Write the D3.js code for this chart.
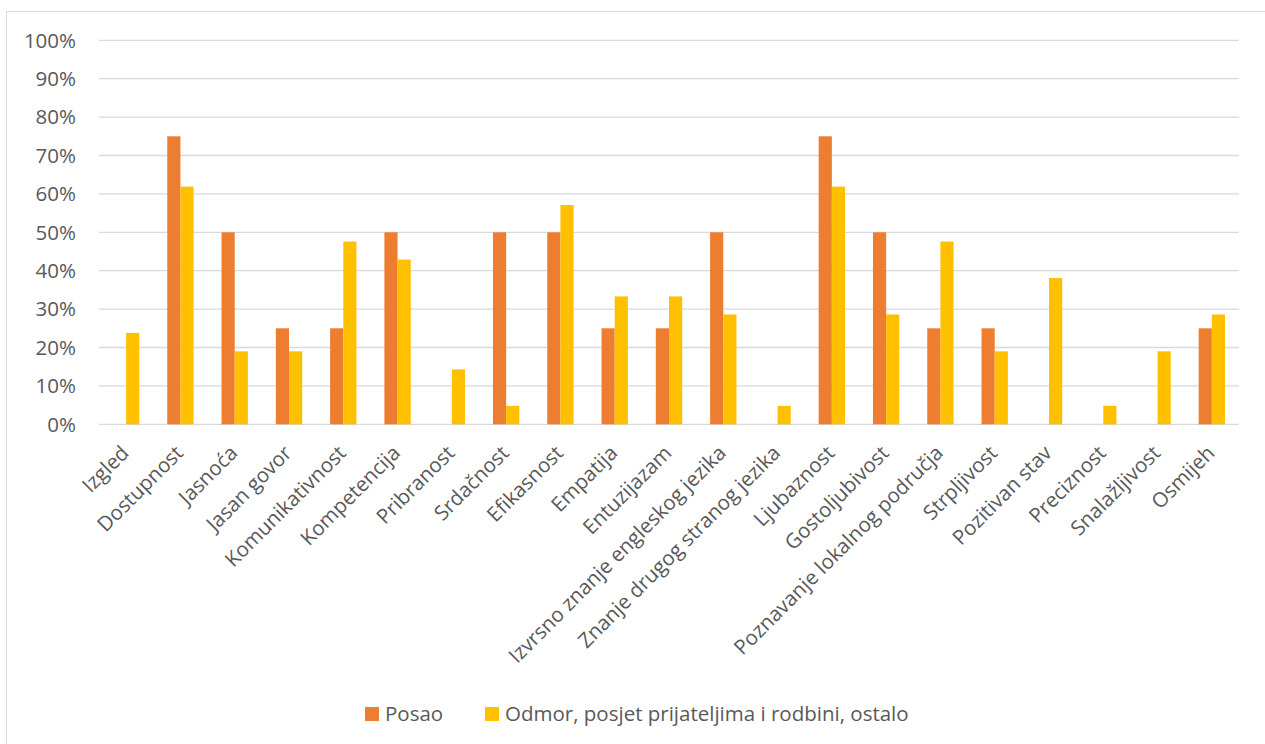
<!DOCTYPE html>
<html>
<head>
<meta charset="utf-8">
<script src="https://cdn.jsdelivr.net/npm/d3@7"></script>
<style>
  body { margin: 0; background: #fff; }
  text { font-family: "Open Sans", "Noto Sans", sans-serif; fill: #595959; }
</style>
</head>
<body>
<div id="chart"></div>
<script>
const categories = ["Izgled", "Dostupnost", "Jasnoća", "Jasan govor", "Komunikativnost", "Kompetencija",
    "Pribranost", "Srdačnost", "Efikasnost", "Empatija", "Entuzijazam", "Izvrsno znanje engleskog jezika",
    "Znanje drugog stranog jezika", "Ljubaznost", "Gostoljubivost", "Poznavanje lokalnog područja",
    "Strpljivost", "Pozitivan stav", "Preciznost", "Snalažljivost", "Osmijeh"];
const posao = [0, 0.75, 0.5, 0.25, 0.25, 0.5, 0, 0.5, 0.5, 0.25, 0.25, 0.5, 0, 0.75, 0.5, 0.25, 0.25, 0, 0, 0, 0.25];
const odmor = [0.238, 0.619, 0.190, 0.190, 0.476, 0.429, 0.143, 0.048, 0.571, 0.333, 0.333, 0.286, 0.048,
    0.619, 0.286, 0.476, 0.190, 0.381, 0.048, 0.190, 0.286];
const seriesNames = ["Posao", "Odmor, posjet prijateljima i rodbini, ostalo"];
const colors = ["#ED7D31", "#FFC000"];
const yTicks = [0, 0.1, 0.2, 0.3, 0.4, 0.5, 0.6, 0.7, 0.8, 0.9, 1];

const width = 1265, height = 744;
const plot = { left: 99, right: 1239, top: 40.3, bottom: 424.3 };
const fontSize = '20.5px';

const svg = d3.select('#chart').append('svg')
    .attr('width', width)
    .attr('height', height);

// outer chart border
svg.append('rect')
    .attr('x', 6.5).attr('y', 11.5)
    .attr('width', 1270).attr('height', 760)
    .attr('fill', 'none')
    .attr('stroke', '#d9d9d9')
    .attr('stroke-width', 1);

const x = d3.scaleBand().domain(categories).range([plot.left, plot.right]).paddingInner(0).paddingOuter(0);
const xs = d3.scaleBand().domain([0, 1]).range([0, x.bandwidth()]).paddingInner(0).paddingOuter(1.06);
const y = d3.scaleLinear().domain([0, 1]).range([plot.bottom, plot.top]);

// gridlines
svg.append('g')
    .selectAll('line')
    .data(yTicks)
    .enter().append('line')
    .attr('x1', plot.left).attr('x2', plot.right)
    .attr('y1', d => y(d)).attr('y2', d => y(d))
    .attr('stroke', '#d9d9d9')
    .attr('stroke-width', 1.3);

// y labels
svg.append('g')
    .selectAll('text')
    .data(yTicks)
    .enter().append('text')
    .attr('x', 76)
    .attr('y', d => y(d))
    .attr('dy', '0.36em')
    .attr('text-anchor', 'end')
    .style('font-size', fontSize)
    .text(d3.format('.0%'));

// bars
const data = [posao, odmor];
data.forEach((vals, si) => {
    svg.append('g')
        .selectAll('rect')
        .data(vals)
        .enter().append('rect')
        .attr('x', (d, i) => x(categories[i]) + xs(si))
        .attr('width', xs.bandwidth())
        .attr('y', d => y(d))
        .attr('height', d => y(0) - y(d))
        .attr('fill', colors[si]);
});

// category labels
svg.append('g')
    .selectAll('text')
    .data(categories)
    .enter().append('text')
    .attr('transform', d => `translate(${x(d) + x.bandwidth() / 2 + 4},${plot.bottom + 30}) rotate(-45)`)
    .attr('text-anchor', 'end')
    .style('font-size', fontSize)
    .text(d => d);

// legend
const legend = svg.append('g');
const legendX = [365, 485];
seriesNames.forEach((name, i) => {
    legend.append('rect')
        .attr('x', legendX[i]).attr('y', 707)
        .attr('width', 14).attr('height', 14)
        .attr('fill', colors[i]);
    legend.append('text')
        .attr('x', legendX[i] + 20).attr('y', 714)
        .attr('dy', '0.36em')
        .style('font-size', fontSize)
        .text(name);
});
</script>
</body>
</html>
